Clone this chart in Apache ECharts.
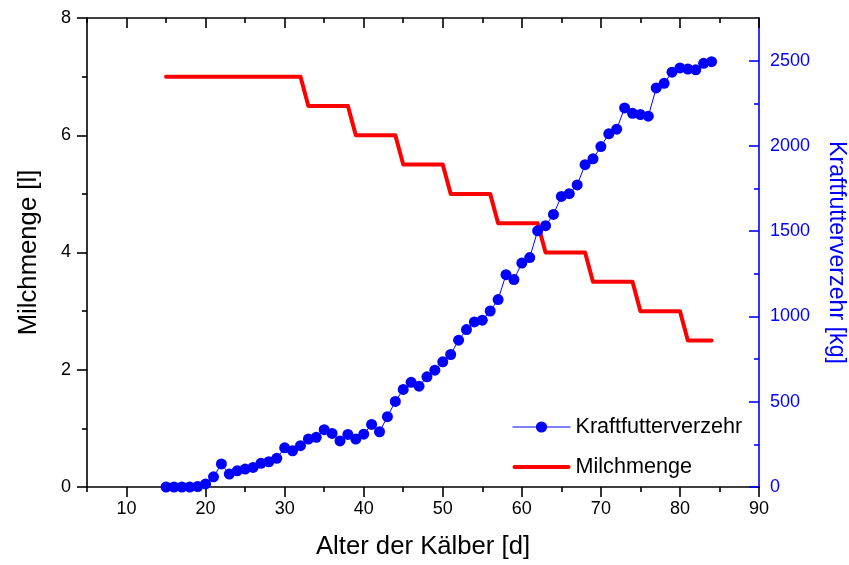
<!DOCTYPE html>
<html>
<head>
<meta charset="utf-8">
<script src="https://cdn.jsdelivr.net/npm/echarts@6/dist/echarts.min.js"></script>
<style>
html,body{margin:0;padding:0;background:#fff;}
#chart{width:849px;height:565px;}
</style>
</head>
<body>
<div id="chart"></div>
<script>
// Days (Alter der Kälber)
var days = [15,16,17,18,19,20,21,22,23,24,25,26,27,28,29,30,31,32,33,34,35,36,37,38,39,40,41,42,43,44,45,46,47,48,49,50,51,52,53,54,55,56,57,58,59,60,61,62,63,64,65,66,67,68,69,70,71,72,73,74,75,76,77,78,79,80,81,82,83,84];
// Milchmenge [l]
var milk = [7,7,7,7,7,7,7,7,7,7,7,7,7,7,7,7,7,7,6.5,6.5,6.5,6.5,6.5,6.5,6,6,6,6,6,6,5.5,5.5,5.5,5.5,5.5,5.5,5,5,5,5,5,5,4.5,4.5,4.5,4.5,4.5,4.5,4,4,4,4,4,4,3.5,3.5,3.5,3.5,3.5,3.5,3,3,3,3,3,3,2.5,2.5,2.5,2.5];
// Kraftfutterverzehr [kg]
var feed = [0,0,0,0,3,18,60,135,76,95,105,115,139,148,168,230,212,242,281,291,336,314,270,308,281,310,367,324,412,502,572,614,591,646,685,734,777,861,923,968,978,1032,1099,1245,1216,1313,1345,1502,1532,1598,1704,1720,1771,1890,1924,1996,2071,2098,2223,2191,2184,2174,2340,2367,2432,2457,2451,2446,2484,2494];
// Tick values
var xMajor = [10,20,30,40,50,60,70,80,90];
var xMinor = [5,15,25,35,45,55,65,75,85];
var yLeftTicks = [0,2,4,6,8];
var yRightMajor = [0,500,1000,1500,2000,2500];
var yRightMinor = [250,750,1250,1750,2250];

var FONT = '"Liberation Sans", Arial, sans-serif';
var BLUE = '#0000ff';
var RED = '#ff0000';

var milkData = days.map(function(d,i){return [d, milk[i]];});
var feedData = days.map(function(d,i){return [d, feed[i]];});
function plain(v){ return String(v); }

function xAx(pos, ticks, len, inside, showLine, showLabel, extra){
  var a = {
    type:'value', position:pos, min:5, max:90, gridIndex:0,
    axisLine:{show:showLine, onZero:false, lineStyle:{color:'#000', width:1.6}},
    axisTick:{show:true, inside:inside, length:len, customValues:ticks, lineStyle:{color:'#000', width:1.6}},
    axisLabel:{show:showLabel, customValues:ticks, formatter:plain, margin:13, color:'#000', fontSize:18, fontFamily:FONT},
    splitLine:{show:false}
  };
  if (extra) for (var k in extra) a[k]=extra[k];
  return a;
}

var option = {
  animation:false,
  backgroundColor:'#fff',
  grid:{left:87, right:90, top:18, bottom:78, containLabel:false, outerBoundsMode:'none'},
  legend:{
    orient:'vertical', left:512, top:416, padding:0,
    itemWidth:58, itemHeight:14, itemGap:18,
    lineStyle:{width:'inherit'},
    data:[
      {name:'Kraftfutterverzehr'},
      {name:'Milchmenge', icon:'path://M2,0 L56,0 A2,2 0 0 1 56,4 L2,4 A2,2 0 0 1 2,0 Z'}
    ],
    textStyle:{fontSize:21.6, fontFamily:FONT, color:'#000'}
  },
  xAxis:[
    xAx('bottom', xMajor, 10, false, true, true, {
      name:'Alter der Kälber [d]', nameLocation:'middle', nameGap:47,
      nameTextStyle:{fontSize:25.7, fontFamily:FONT, color:'#000'}
    }),
    xAx('bottom', xMinor, 5, false, false, false),
    xAx('top', xMajor, 10, true, true, false),
    xAx('top', xMinor, 5, true, false, false)
  ],
  yAxis:[
    {
      type:'value', position:'left', min:0, max:8, interval:2,
      axisLine:{show:true, onZero:false, lineStyle:{color:'#000', width:1.6}},
      axisTick:{show:true, inside:false, length:10, customValues:yLeftTicks, lineStyle:{color:'#000', width:1.6}},
      minorTick:{show:true, splitNumber:2, length:5, lineStyle:{color:'#000', width:1.6}},
      axisLabel:{customValues:yLeftTicks, formatter:plain, margin:16, color:'#000', fontSize:18, fontFamily:FONT},
      splitLine:{show:false},
      name:'Milchmenge [l]', nameLocation:'middle', nameGap:45,
      nameTextStyle:{fontSize:25.7, fontFamily:FONT, color:'#000'}
    },
    {
      type:'value', position:'right', min:0, max:2750,
      axisLine:{show:true, onZero:false, lineStyle:{color:BLUE, width:1.6}},
      axisTick:{show:true, inside:true, length:10, customValues:yRightMajor, lineStyle:{color:BLUE, width:1.6}},
      axisLabel:{customValues:yRightMajor, formatter:plain, margin:11, color:BLUE, fontSize:18, fontFamily:FONT},
      splitLine:{show:false},
      name:'Kraftfutterverzehr [kg]', nameLocation:'middle', nameGap:66, nameRotate:-90,
      nameTextStyle:{fontSize:23.2, fontFamily:FONT, color:BLUE}
    },
    {
      type:'value', position:'right', min:0, max:2750,
      axisLine:{show:false, onZero:false},
      axisTick:{show:true, inside:true, length:5, customValues:yRightMinor, lineStyle:{color:BLUE, width:1.6}},
      axisLabel:{show:false, customValues:yRightMinor},
      splitLine:{show:false}
    }
  ],
  series:[
    {
      name:'Milchmenge', type:'line', xAxisIndex:0, yAxisIndex:0,
      data:milkData, showSymbol:false, symbol:'none',
      lineStyle:{color:RED, width:4, cap:'round', join:'round'}, itemStyle:{color:RED}, z:2
    },
    {
      name:'Kraftfutterverzehr', type:'line', xAxisIndex:0, yAxisIndex:1,
      data:feedData, symbol:'circle', symbolSize:11, showSymbol:true,
      lineStyle:{color:BLUE, width:1}, itemStyle:{color:BLUE}, z:3
    }
  ]
};

var chart = echarts.init(document.getElementById('chart'), null, {renderer:'canvas'});
chart.setOption(option);
</script>
</body>
</html>
